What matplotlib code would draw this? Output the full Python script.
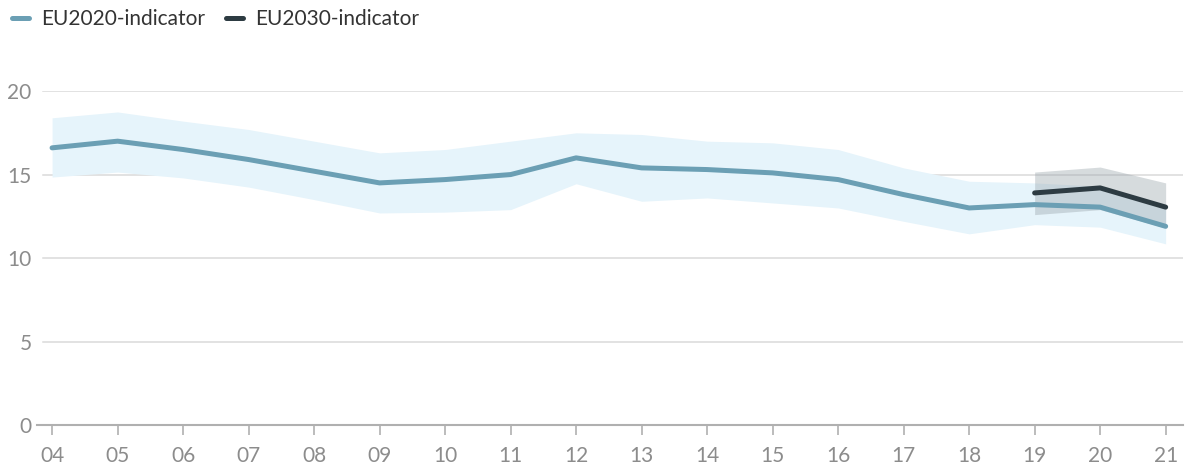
import matplotlib

matplotlib.use("Agg")

import matplotlib.pyplot as plt
from matplotlib.lines import Line2D

YEARS = ["04", "05", "06", "07", "08", "09", "10", "11", "12",
         "13", "14", "15", "16", "17", "18", "19", "20", "21"]
EU2020 = [16.6, 17.0, 16.5, 15.9, 15.2, 14.5, 14.7, 15.0, 16.0,
          15.4, 15.3, 15.1, 14.7, 13.8, 13.0, 13.2, 13.05, 11.9]
EU2020_HIGH = [18.4, 18.75, 18.2, 17.7, 17.0, 16.3, 16.5, 17.0, 17.5,
               17.4, 17.0, 16.9, 16.5, 15.4, 14.6, 14.5, 14.3, 13.2]
EU2020_LOW = [14.85, 15.15, 14.8, 14.25, 13.5, 12.7, 12.75, 12.9, 14.45,
              13.4, 13.6, 13.3, 13.0, 12.2, 11.45, 12.0, 11.85, 10.85]
EU2030_YEARS = ["19", "20", "21"]
EU2030 = [13.9, 14.2, 13.05]
EU2030_HIGH = [15.15, 15.45, 14.5]
EU2030_LOW = [12.6, 12.9, 11.8]
Y_TICKS = [0, 5, 10, 15, 20]

LINE_2020 = "#6b9fb4"
BAND_2020 = "#e6f4fb"
LINE_2030 = "#2d3b42"
BAND_2030 = "#9aa5ab"
TEXT_GREY = "#8c8c8c"

plt.rcParams["font.family"] = ["Lato", "DejaVu Sans"]

fig = plt.figure(figsize=(11.86, 4.69), dpi=100)
ax = fig.add_axes([0.0312, 0.0938, 0.966, 0.712])

x = list(range(len(YEARS)))
x30 = [YEARS.index(y) for y in EU2030_YEARS]

ax.fill_between(x, EU2020_LOW, EU2020_HIGH, color=BAND_2020, lw=0, zorder=1)
ax.fill_between(x30, EU2030_LOW, EU2030_HIGH, color=BAND_2030, alpha=0.4, lw=0, zorder=2)
ax.plot(x, EU2020, color=LINE_2020, lw=3.6, solid_capstyle="round", zorder=3)
ax.plot(x30, EU2030, color=LINE_2030, lw=3.6, solid_capstyle="round", zorder=4)

ax.set_xlim(-0.23, 17.26)
ax.set_ylim(0, 20)
ax.set_xticks(x)
ax.set_xticklabels(YEARS)
ax.set_yticks(Y_TICKS)

for v in Y_TICKS[1:]:
    ax.axhline(v, xmin=0.005, color="#dadada", lw=1.1, zorder=0)

for side in ["top", "right", "left"]:
    ax.spines[side].set_visible(False)
ax.spines["bottom"].set_color("#b0b0b0")
ax.spines["bottom"].set_linewidth(1.5)

ax.tick_params(axis="x", length=7, width=1.2, color="#b0b0b0", labelcolor=TEXT_GREY,
               labelsize=15, pad=8)
ax.tick_params(axis="y", length=0, labelcolor=TEXT_GREY, labelsize=15, pad=4)

handles = [
    Line2D([0], [0], color=LINE_2020, lw=3.6, solid_capstyle="round", label="EU2020-indicator"),
    Line2D([0], [0], color=LINE_2030, lw=3.6, solid_capstyle="round", label="EU2030-indicator"),
]
fig.legend(handles=handles, loc="upper left", bbox_to_anchor=(-0.006, 1.02), ncol=2,
           frameon=False, fontsize=15, handlelength=0.85, handletextpad=0.55,
           columnspacing=1.0, labelcolor="#333333")

fig.savefig("out.png", dpi=100)
